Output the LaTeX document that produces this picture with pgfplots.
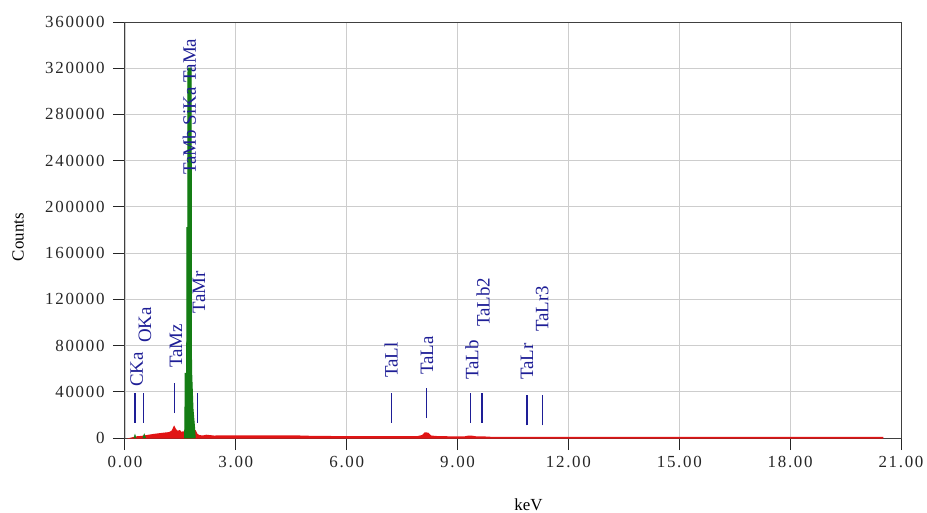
\documentclass[border=0pt]{standalone}
\usepackage{fontspec}
\setmainfont{Liberation Serif}
\usepackage{pgfplots}
\pgfplotsset{compat=1.18}
\definecolor{pkblue}{RGB}{30,30,150}
\definecolor{specred}{RGB}{225,20,20}
\definecolor{specgreen}{RGB}{20,125,20}
\definecolor{gridgray}{RGB}{205,205,205}
\begin{document}
\begin{tikzpicture}
\begin{axis}[
  at={(0,0)}, anchor=south west,
  scale only axis, width=776bp, height=416bp,
  xmin=0, xmax=21, ymin=0, ymax=360000,
  xtick={0,3,...,21}, ytick={0,40000,...,360000},
  scaled y ticks=false,
  clip=false,
  grid=major,
  major grid style={gridgray, line width=0.8pt},
  axis line style={black!75, line width=1pt},
  tick style={black!85, line width=1pt},
  tick align=outside, major tick length=12bp,
  xtick pos=bottom, ytick pos=left,
  xticklabel style={yshift=-3bp, /pgf/number format/.cd, fixed, fixed zerofill, precision=2, assume math mode=true},
  yticklabel style={xshift=-5bp, /pgf/number format/.cd, fixed, set thousands separator={}, assume math mode=true},
  ticklabel style={font=\fontsize{17}{19}\selectfont\addfontfeature{LetterSpace=10}, text=black!85},
  xlabel={keV}, ylabel={Counts},
  label style={font=\fontsize{17}{20}\selectfont},
  xlabel style={at={(axis description cs:0.52,-0.161)}, anchor=center},
  ylabel style={at={(axis description cs:-0.1379,0.483)}, anchor=center},
]
% red background spectrum
\addplot[draw=specred, fill=specred, line width=1.5pt] coordinates {
(0.20,0) (0.30,800) (0.45,1200) (0.60,2000) (0.80,3000) (1.00,3800) (1.20,4500)
(1.28,6000) (1.33,9500) (1.37,7000) (1.42,5500) (1.48,6200) (1.52,4500) (1.56,5000)
(1.60,5000) (1.85,4500) (1.90,6000) (1.95,3000) (2.00,2000) (2.10,1500) (2.20,2200)
(2.40,1500) (3.00,1700) (4.00,1600) (4.90,1500) (5.00,1200) (6.00,1000) (7.00,900)
(7.90,900) (8.05,2000) (8.12,4300) (8.20,4000) (8.28,1500) (8.50,900) (9.20,800)
(9.30,1500) (9.40,1300) (9.50,800) (9.85,600) (9.90,300) (20.50,250) (20.50,0)
} \closedcycle;
% green peaks
\addplot[draw=specgreen, fill=specgreen, line width=1pt] coordinates {
(1.61,0) (1.62,10000) (1.63,56000) (1.67,56000) (1.675,182000) (1.70,182000)
(1.705,320000) (1.79,320000) (1.80,60000) (1.84,25000) (1.88,10000) (1.90,0)
} \closedcycle;
\addplot[draw=specgreen, fill=specgreen] coordinates {(0.24,0) (0.27,3200) (0.30,0)} \closedcycle;
\addplot[draw=specgreen, fill=specgreen] coordinates {(0.48,0) (0.52,3600) (0.56,0)} \closedcycle;
% marker lines
\addplot[pkblue, line width=1.1pt] coordinates {(0.27,13000) (0.27,39000)};
\addplot[pkblue, line width=1.1pt] coordinates {(0.51,13000) (0.51,39000)};
\addplot[pkblue, line width=1.1pt] coordinates {(1.33,21600) (1.33,47600)};
\addplot[pkblue, line width=1.1pt] coordinates {(1.95,13000) (1.95,39000)};
\addplot[pkblue, line width=1.1pt] coordinates {(7.22,13000) (7.22,39000)};
\addplot[pkblue, line width=1.1pt] coordinates {(8.17,17300) (8.17,43300)};
\addplot[pkblue, line width=1.1pt] coordinates {(9.36,13000) (9.36,39000)};
\addplot[pkblue, line width=1.1pt] coordinates {(9.66,13000) (9.66,39000)};
\addplot[pkblue, line width=1.1pt] coordinates {(10.88,11000) (10.88,37000)};
\addplot[pkblue, line width=1.1pt] coordinates {(11.29,11000) (11.29,37000)};
% labels
\begin{scope}[every node/.style={rotate=90, anchor=west, inner sep=0pt, text=pkblue, font=\fontsize{19}{21}\selectfont}]
\node at (axis cs:0.32,44000) {CKa};
\node at (axis cs:0.54,82200) {OKa};
\node at (axis cs:1.38,60600) {TaMz};
\node at (axis cs:2.00,108000) {TaMr};
\node at (axis cs:1.74,227600) {TaMb SiKa TaMa};
\node at (axis cs:7.20,51900) {TaLl};
\node at (axis cs:8.17,54500) {TaLa};
\node at (axis cs:9.39,50200) {TaLb};
\node at (axis cs:9.69,96000) {TaLb2};
\node at (axis cs:10.88,50200) {TaLr};
\node at (axis cs:11.29,91700) {TaLr3};
\end{scope}
\end{axis}
\pgfresetboundingbox
\useasboundingbox (-125bp,-75bp) rectangle (802bp,438bp);
\end{tikzpicture}
\end{document}
